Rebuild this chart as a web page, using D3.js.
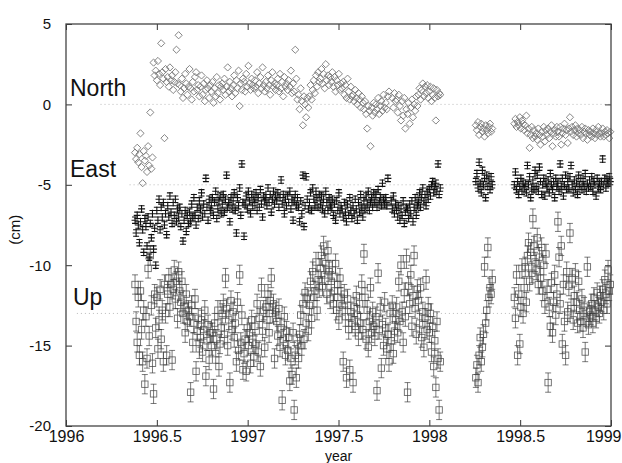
<!DOCTYPE html>
<html>
<head>
<meta charset="utf-8">
<script src="https://cdn.jsdelivr.net/npm/d3@7"></script>
<style>
  body { margin: 0; background: #fff; }
  text { font-family: "Liberation Sans", Arial, sans-serif; }
</style>
</head>
<body>
<div id="chart"></div>
<script>
// daily GPS solutions, sampled every 0.006 yr; three observing periods
const segStart = [1996.38, 1998.256, 1998.468];
const step = 0.006;

const northA = [
  -3.0,-3.4,-2.7,-3.6,-3.1,-1.8,-3.9,-4.9,-2.9,-3.5,
  -3.2,-4.2,-2.6,-3.8,-0.5,-4.0,-3.3,2.6,1.8,2.1,
  1.5,2.7,1.9,1.2,3.8,2.0,1.6,-2.1,2.2,1.4,
  1.7,1.1,2.3,1.5,1.8,0.9,1.4,2.0,3.4,1.3,
  4.3,1.2,0.8,1.6,0.4,1.0,1.9,1.3,0.6,1.1,
  2.2,1.0,0.3,1.4,0.8,1.7,2.0,0.9,1.2,0.5,
  1.1,1.8,0.6,1.3,0.2,0.9,1.5,1.0,0.4,1.2,
  0.8,1.4,0.1,1.0,0.5,1.7,0.7,1.2,0.3,1.1,
  1.3,0.9,1.6,0.6,1.1,2.3,0.8,1.4,1.0,0.5,
  1.2,1.8,0.7,1.5,1.0,2.1,-0.1,1.3,0.9,1.6,
  1.4,0.8,1.9,1.1,2.4,1.3,0.9,1.6,1.2,1.0,
  1.5,1.1,2.0,0.7,1.3,1.7,1.0,2.3,1.2,0.8,
  1.4,1.0,1.8,1.2,0.6,1.5,2.0,1.1,1.3,0.9,
  1.2,1.6,0.8,1.9,1.0,1.4,0.5,1.7,1.1,1.3,
  0.9,1.5,1.1,2.1,0.7,1.3,0.8,3.4,1.6,0.3,
  0.6,-0.3,1.0,0.2,-1.3,0.5,0.0,-0.8,0.4,-0.2,
  0.5,1.2,0.3,0.9,1.5,0.7,1.8,1.1,2.0,1.4,
  1.6,2.2,1.3,1.9,1.0,2.5,1.5,1.8,1.2,1.7,
  1.4,2.0,1.1,1.7,0.8,1.5,1.2,1.9,0.9,1.3,
  1.0,1.4,0.6,1.2,0.4,1.6,0.8,0.3,1.1,0.5,
  0.6,0.2,0.9,0.4,0.0,0.7,0.3,-0.2,0.5,0.1,
  -0.3,0.2,-0.6,-1.5,-0.1,-0.4,-2.6,-0.2,-0.7,0.1,
  -0.5,0.0,-0.3,0.4,-0.6,-0.1,0.2,-0.4,0.6,-0.2,
  0.1,-0.3,0.5,0.8,null,null,0.4,-0.2,0.7,0.2,
  0.3,-0.5,0.6,-0.1,-1.0,0.2,-0.7,0.4,-1.5,-0.3,
  -0.6,0.1,-1.2,-0.2,0.3,-0.8,0.0,-0.4,0.5,-0.1,
  0.6,1.0,0.3,0.9,1.3,0.5,1.1,0.7,1.2,0.4,
  0.8,1.1,0.2,0.6,1.0,0.4,-1.0,0.9,0.5,0.7,
  0.6
];
const northB = [-1.3,-1.6,-1.1,-1.9,-1.4,-1.2,-1.7,-1.5,-2.0,-1.3,-1.6,-1.8,-1.4,-1.2,-1.7,-1.5];
const northC = [
  -1.2,-0.9,-1.4,-1.1,-1.3,-0.8,-1.5,-1.0,-1.2,-1.6,
  -1.3,-0.7,-1.8,-1.5,-2.7,-1.9,-1.4,-2.1,-1.6,-2.0,
  -1.8,-2.2,-1.5,-1.9,-2.5,-1.7,-2.0,-1.4,-2.3,-1.6,
  -1.9,-1.5,-2.1,-1.7,-1.3,-2.6,-1.8,-1.6,-2.0,-1.4,
  -1.7,-2.0,-1.4,-2.5,-1.8,-1.5,-1.2,-1.9,-1.6,-2.4,
  -1.5,-0.8,-1.7,-1.4,-1.9,-1.6,-1.3,-2.0,-1.5,-1.8,
  -1.6,-1.9,-1.4,-2.1,-1.7,-1.5,-1.8,-2.2,-1.6,-1.9,
  -1.7,-2.0,-1.5,-1.8,-2.1,-1.6,-1.9,-1.4,-1.8,-2.0,
  -1.8,-1.5,-2.0,-1.7,-1.9,-1.6,-1.8,-2.1,-1.7
];

const eastA = [
  -7.2,-8.0,-6.9,-7.5,-8.6,-7.3,-6.5,-7.8,-9.2,-7.1,
  -7.6,-8.8,-7.0,-9.5,-7.4,-8.3,-6.8,-9.0,-7.7,-10.0,
  -6.6,-7.2,-5.9,-7.8,-6.4,-7.0,-6.1,-7.5,-6.8,-8.1,
  -6.3,-7.0,-5.7,-6.7,-7.4,-6.1,-6.9,-5.9,-7.3,-6.5,
  -7.0,-6.4,-7.6,-6.8,-8.5,-7.2,-6.6,-7.9,-6.9,-7.4,
  -6.7,-7.3,-6.2,-7.0,-5.8,-6.9,-7.5,-6.4,-7.1,-6.0,
  -6.5,-5.5,-7.0,-6.2,-6.8,-4.6,-6.4,-7.2,-5.9,-6.6,
  -6.3,-5.8,-6.9,-6.1,-5.4,-7.1,-6.5,-6.0,-5.7,-6.8,
  -6.2,-5.6,-6.7,-5.9,-4.4,-6.4,-6.1,-7.3,-5.8,-6.5,
  -6.0,-5.5,-6.6,-8.0,-5.8,-6.3,-5.2,-6.9,-3.7,-6.1,
  -8.2,-6.2,-5.7,-6.5,-5.4,-6.0,-6.8,-5.6,-6.3,-5.9,
  -6.1,-5.5,-6.6,-5.8,-6.4,-5.3,-6.2,-7.0,-5.7,-6.0,
  -5.8,-6.3,-5.2,-6.1,-5.6,-6.7,-5.9,-5.4,-6.2,-5.7,
  -6.0,-5.5,-6.4,-5.8,-4.7,-6.2,-5.6,-6.8,-5.9,-6.3,
  -5.7,-6.1,-5.4,-6.5,-5.9,-7.2,-6.0,-5.6,-6.3,-5.8,
  -6.4,-7.3,-6.0,-6.8,-4.4,-7.6,-6.3,-4.5,-5.9,-6.5,
  -6.1,-5.5,-6.6,-5.2,-5.9,-6.3,-5.4,-5.8,-6.4,-5.6,
  -6.2,-5.7,-6.5,-5.9,-6.8,-5.4,-6.1,-6.6,-5.8,-6.3,
  -6.4,-5.9,-6.9,-6.2,-7.2,-6.0,-6.6,-5.5,-6.8,-6.3,
  -6.5,-7.0,-6.1,-6.7,-7.3,-6.2,-6.9,-5.8,-6.6,-7.1,
  -6.3,-6.8,-5.9,-6.5,-7.2,-6.1,-6.7,-5.6,-6.4,-7.0,
  -6.0,-6.5,-5.7,-6.2,-5.4,-6.6,-6.1,-5.8,-6.4,-5.5,
  -6.1,-5.6,-6.4,-5.3,-6.0,-5.8,-6.3,-4.9,-5.9,-6.2,
  -5.8,-6.3,-4.6,null,null,-6.0,-6.5,-5.7,-6.8,-6.2,
  -6.6,-7.0,-6.3,-7.2,-6.5,-6.9,-6.0,-7.4,-6.7,-6.4,
  -6.5,-7.1,-6.2,-6.8,-6.0,-7.3,-6.4,-5.8,-6.9,-6.3,
  -6.1,-5.5,-6.4,-5.8,-5.2,-6.0,-5.6,-6.3,-5.4,-5.9,
  -5.3,-5.7,-5.0,-4.8,-5.5,-5.1,-4.9,-5.4,-3.7,-5.6,
  -5.2
];
const eastB = [-4.8,-4.3,-5.2,-3.6,-4.9,-5.5,-4.1,-5.0,-4.6,-5.8,-4.4,-5.1,-4.7,-5.3,-4.5,-5.0];
const eastC = [
  -5.0,-4.2,-5.3,-4.8,-5.6,-5.1,-4.6,-5.4,-4.9,-5.2,
  -4.9,-5.5,-3.8,-5.0,-4.5,-5.8,-5.2,-4.7,-5.3,-4.1,
  -5.1,-4.4,-5.4,-3.9,-4.8,-5.6,-5.0,-4.6,-5.7,-4.9,
  -5.2,-4.7,-5.5,-4.3,-5.0,-5.3,-4.8,-5.8,-4.6,-5.1,
  -4.9,-5.4,-3.7,-5.1,-4.6,-5.7,-5.0,-4.4,-5.3,-4.8,
  -5.2,-4.5,-3.8,-5.0,-5.5,-4.7,-5.3,-4.9,-5.6,-4.4,
  -5.0,-4.6,-5.3,-4.8,-5.1,-4.3,-5.4,-4.9,-5.2,-4.7,
  -5.1,-4.5,-5.4,-4.8,-5.0,-5.7,-4.6,-5.2,-4.9,-5.3,
  -4.8,-3.4,-5.0,-4.6,-5.2,-4.7,-4.9,-4.5,-4.8
];

const upA = [
  -11.2,-13.5,-14.8,-12.0,-15.6,-11.6,-14.0,-16.0,-12.8,-17.4,
  -13.2,-15.8,-10.2,-14.4,-9.4,-12.5,-16.1,-18.0,-11.8,-13.9,
  -12.0,-15.2,-13.4,-11.5,-14.6,-12.8,-16.0,-11.2,-13.0,-15.6,
  -11.8,-10.8,-12.6,-11.2,-15.9,-11.5,-10.3,-12.1,-11.0,-13.3,
  -10.4,-11.6,-12.3,-11.0,-13.0,-12.5,-14.2,-11.8,-13.5,-12.8,
  -13.2,-17.9,-12.5,-14.8,-13.6,-12.1,-16.6,-14.1,-13.3,-15.2,
  -14.5,-13.4,-15.4,-14.0,-12.8,-16.9,-14.7,-13.7,-15.9,-14.2,
  -15.0,-14.2,-17.7,-13.6,-15.5,-14.6,-12.8,-16.3,-14.9,-13.9,
  -13.0,-12.4,-14.3,-10.8,-12.7,-15.0,-13.4,-17.3,-12.2,-14.0,
  -12.9,-14.5,-13.6,-16.0,-12.3,-15.3,-10.6,-14.8,-13.1,-16.5,
  -15.5,-14.6,-16.6,-13.9,-15.0,-14.2,-16.1,-13.4,-14.8,-15.7,
  -13.8,-14.9,-12.4,-15.4,-13.3,-16.3,-11.4,-14.1,-12.8,-15.1,
  -12.6,-13.4,-11.8,-14.2,-12.2,-10.8,-13.0,-12.4,-15.8,-12.9,
  -13.5,-14.4,-12.7,-15.1,-13.9,-18.4,-14.6,-13.2,-15.6,-14.1,
  -15.3,-14.5,-17.2,-15.8,-16.8,-14.2,-19.0,-15.6,-17.0,-14.9,
  -15.8,-14.3,-13.1,-15.0,-12.4,-14.6,-11.7,-13.6,-12.0,-14.1,
  -12.5,-11.0,-13.3,-10.4,-12.0,-11.6,-9.8,-12.8,-10.9,-11.4,
  -10.2,-9.4,-11.3,-8.8,-10.6,-9.9,-11.8,-9.1,-10.4,-12.1,
  -11.0,-10.3,-12.4,-11.6,-9.9,-12.8,-11.2,-13.4,-10.8,-12.0,
  -12.5,-16.0,-11.8,-13.2,-17.0,-12.1,-14.0,-16.5,-12.9,-13.6,
  -17.3,-12.6,-13.8,-11.9,-13.1,-14.4,-12.4,-13.6,-11.2,-14.0,
  -9.3,-12.0,-14.6,-12.8,-15.1,-13.5,-11.4,-14.2,-12.9,-13.8,
  -14.4,-13.2,-17.8,-10.5,-14.0,-12.6,-16.4,-13.7,-15.0,-12.3,
  -13.9,-15.2,-14.3,-16.0,-13.0,-14.7,-12.5,-15.5,-14.1,-13.4,
  -12.6,-14.2,-11.0,-13.5,-10.0,-12.9,-14.8,-11.7,-13.2,-9.6,
  -17.9,-11.3,-12.4,-10.6,-13.8,-11.9,-9.4,-12.7,-14.3,-11.5,
  -12.2,-13.6,-11.4,-14.5,-12.9,-15.1,-13.3,-10.9,-14.0,-12.6,
  -14.2,-13.0,-15.4,-13.8,-16.3,-14.7,-17.6,-13.5,-15.8,-19.0,
  -16.0
];
const upB = [-17.0,-16.2,-17.3,-15.6,-14.5,-16.0,-15.1,-14.3,-10.1,-13.6,-12.8,-8.9,-12.0,-11.4,-11.8,-10.9];
const upC = [
  -12.0,-13.3,-10.6,-15.6,-11.8,-14.9,-12.6,-10.2,-13.0,-11.4,
  -10.1,-12.3,-9.4,-8.6,-11.0,-9.2,-10.5,-7.1,-8.8,-9.8,
  -10.3,-8.3,-11.2,-9.5,-10.8,-8.9,-11.6,-10.0,-12.4,-9.3,
  -11.5,-17.3,-12.6,-13.8,-11.1,-14.2,-12.3,-10.6,-13.1,-11.8,
  -7.3,-9.5,-12.4,-8.8,-14.9,-11.2,-13.5,-15.6,-10.4,-12.9,
  -11.3,-8.0,-12.7,-10.8,-13.4,-11.9,-10.5,-12.3,-13.6,-11.0,
  -12.8,-13.5,-12.1,-13.9,-12.6,-15.4,-13.2,-10.1,-13.7,-12.9,
  -13.1,-12.4,-13.6,-12.0,-12.8,-13.3,-11.7,-12.6,-13.0,-11.9,
  -12.3,-11.5,-12.8,-10.9,-11.8,-12.4,-10.3,-11.6,-11.2
];

const xTicks = [1996, 1996.5, 1997, 1997.5, 1998, 1998.5, 1999];
const yTicks = [5, 0, -5, -10, -15, -20];
const labels = [
  { name: "North", ref: 0, from: 1996.19 },
  { name: "East", ref: -5, from: 1996.35 },
  { name: "Up", ref: -13, from: 1996.06 }
];

const width = 622, height = 463;
const x = d3.scaleLinear().domain([1996, 1999]).range([66, 611]);
const y = d3.scaleLinear().domain([-20, 5]).range([426, 24]);

function build(parts) {
  const out = [];
  parts.forEach((vals, k) => vals.forEach((v, i) => {
    if (v !== null) out.push({ t: segStart[k] + i * step, v: v });
  }));
  return out;
}
const north = build([northA, northB, northC]);
const east = build([eastA, eastB, eastC]);
const up = build([upA, upB, upC]);

const svg = d3.select("#chart").append("svg")
    .attr("width", width)
    .attr("height", height)
    .attr("viewBox", [0, 0, width, height]);

// offset reference lines
svg.append("g").selectAll("line")
  .data(labels)
  .join("line")
    .attr("x1", d => x(d.from))
    .attr("x2", x(1999))
    .attr("y1", d => y(d.ref))
    .attr("y2", d => y(d.ref))
    .attr("stroke", "#aaa")
    .attr("stroke-width", 0.8)
    .attr("stroke-dasharray", "1,3");

// Up: squares with error bars
const upErr = 0.6;
const gUp = svg.append("g").attr("fill", "none");
gUp.append("path")
    .attr("stroke", "#222")
    .attr("stroke-opacity", 0.75)
    .attr("stroke-width", 0.8)
    .attr("d", up.map(d => {
      const cx = x(d.t), y1 = y(d.v + upErr), y2 = y(d.v - upErr);
      return `M${cx},${y1}V${y2}M${cx - 3},${y1}h6M${cx - 3},${y2}h6`;
    }).join(""));
gUp.selectAll("rect")
  .data(up)
  .join("rect")
    .attr("x", d => x(d.t) - 3.2)
    .attr("y", d => y(d.v) - 3.2)
    .attr("width", 6.4)
    .attr("height", 6.4)
    .attr("stroke", "#444")
    .attr("stroke-opacity", 0.8)
    .attr("stroke-width", 0.9);

// East: plus with small error bars
const eastErr = 0.2;
svg.append("path")
    .attr("fill", "none")
    .attr("stroke", "#111")
    .attr("stroke-width", 1.1)
    .attr("d", east.map(d => {
      const cx = x(d.t), cy = y(d.v), y1 = y(d.v + eastErr), y2 = y(d.v - eastErr);
      return `M${cx - 3.5},${cy}h7M${cx},${cy - 4}V${cy + 4}M${cx - 3},${y1}h6M${cx - 3},${y2}h6`;
    }).join(""));

// North: open diamonds
svg.append("path")
    .attr("fill", "none")
    .attr("stroke", "#777")
    .attr("stroke-width", 0.9)
    .attr("d", north.map(d => {
      const cx = x(d.t), cy = y(d.v), r = 3.6;
      return `M${cx},${cy - r}L${cx + r},${cy}L${cx},${cy + r}L${cx - r},${cy}Z`;
    }).join(""));

// series labels
svg.append("g").selectAll("text")
  .data(labels)
  .join("text")
    .attr("x", d => d.name === "Up" ? 73 : 70)
    .attr("y", d => y(d.ref) - 8)
    .attr("font-size", 23)
    .attr("fill", "#111")
    .text(d => d.name);

// axes, ticks pointing inward on all four sides
svg.append("g")
    .attr("transform", `translate(0,${y(-20)})`)
    .call(d3.axisBottom(x).tickValues(xTicks).tickFormat(d => d).tickSize(-6).tickPadding(5))
    .call(g => g.select(".domain").remove())
    .call(g => g.selectAll("text").attr("font-size", 16).attr("fill", "#111").attr("font-family", null))
    .call(g => g.selectAll(".tick:last-of-type text").attr("text-anchor", "end").attr("x", 10));
svg.append("g")
    .attr("transform", `translate(0,${y(5)})`)
    .call(d3.axisTop(x).tickValues(xTicks).tickFormat("").tickSize(-6))
    .call(g => g.select(".domain").remove());
svg.append("g")
    .attr("transform", `translate(${x(1996)},0)`)
    .call(d3.axisLeft(y).tickValues(yTicks).tickFormat(d => d).tickSize(-6).tickPadding(15))
    .call(g => g.select(".domain").remove())
    .call(g => g.selectAll("text").attr("font-size", 15).attr("fill", "#111").attr("font-family", null));
svg.append("g")
    .attr("transform", `translate(${x(1999)},0)`)
    .call(d3.axisRight(y).tickValues(yTicks).tickFormat("").tickSize(-6))
    .call(g => g.select(".domain").remove());
svg.selectAll(".tick line").attr("stroke", "#333");

svg.append("rect")
    .attr("x", x(1996))
    .attr("y", y(5))
    .attr("width", x(1999) - x(1996))
    .attr("height", y(-20) - y(5))
    .attr("fill", "none")
    .attr("stroke", "#444")
    .attr("stroke-width", 1.3);

svg.append("text")
    .attr("x", (x(1996) + x(1999)) / 2)
    .attr("y", 461)
    .attr("text-anchor", "middle")
    .attr("font-size", 14)
    .attr("fill", "#111")
    .text("year");

svg.append("text")
    .attr("transform", `translate(20,${y(-7.8)}) rotate(-90)`)
    .attr("text-anchor", "middle")
    .attr("font-size", 15)
    .attr("fill", "#111")
    .text("(cm)");
</script>
</body>
</html>
